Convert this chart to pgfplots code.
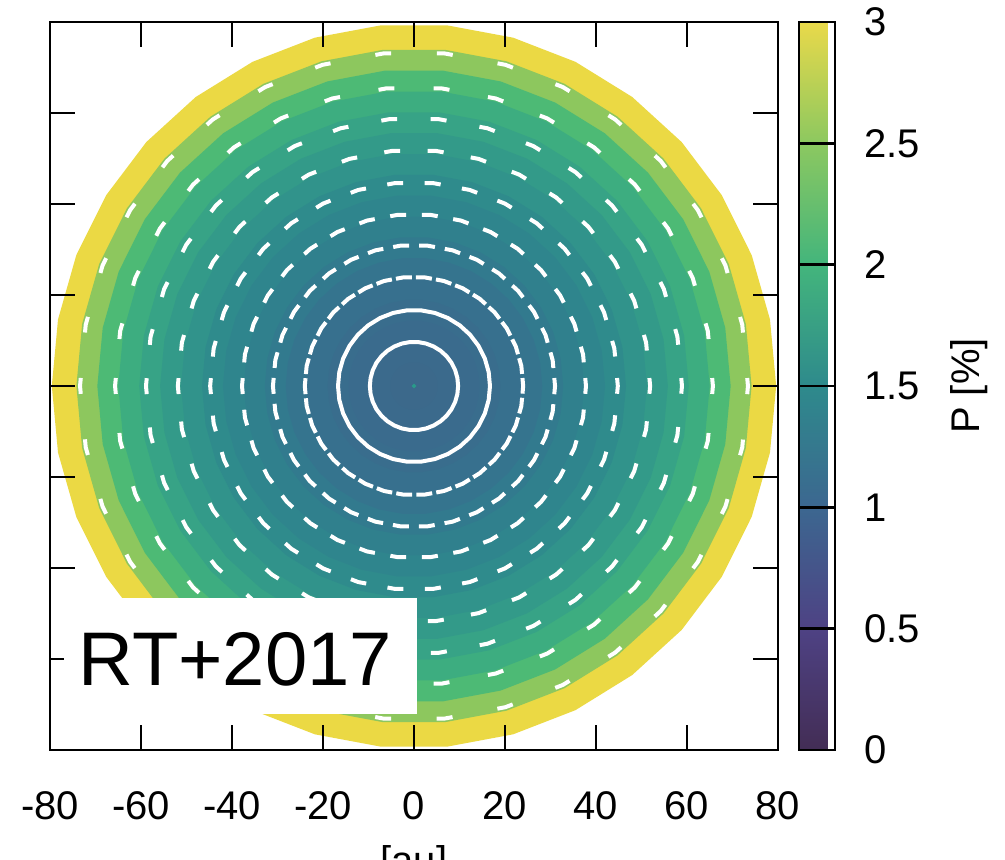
\documentclass[border=0pt]{standalone}
\usepackage{fontspec}
\setmainfont{Liberation Sans}
\usepackage{pgfplots}
\pgfplotsset{compat=1.18}
\usepackage{pgfplotstable}

% polar mesh angles (34 segments), unit radius
\pgfplotstableread{
a u
0 1
10.588 1
21.176 1
31.765 1
42.353 1
52.941 1
63.529 1
74.118 1
84.706 1
95.294 1
105.882 1
116.471 1
127.059 1
137.647 1
148.235 1
158.824 1
169.412 1
180 1
190.588 1
201.176 1
211.765 1
222.353 1
232.941 1
243.529 1
254.118 1
264.706 1
275.294 1
285.882 1
296.471 1
307.059 1
317.647 1
328.235 1
338.824 1
349.412 1
360 1
}\angtab

% ring colours (outer to inner)
\definecolor{r01}{HTML}{EBD944}
\definecolor{r02}{HTML}{8DC75E}
\definecolor{r03}{HTML}{4DBA75}
\definecolor{r04}{HTML}{3DAD80}
\definecolor{r05}{HTML}{37A386}
\definecolor{r06}{HTML}{339A89}
\definecolor{r07}{HTML}{31938B}
\definecolor{r08}{HTML}{2F8B8C}
\definecolor{r09}{HTML}{2F858D}
\definecolor{r10}{HTML}{30808D}
\definecolor{r11}{HTML}{327A8E}
\definecolor{r12}{HTML}{35748E}
\definecolor{r13}{HTML}{37708E}
\definecolor{r14}{HTML}{396D8D}
\definecolor{r15}{HTML}{3A6B8D}
\definecolor{r16}{HTML}{3B6A8C}
\definecolor{r17}{HTML}{3C698B}
\definecolor{cdot}{HTML}{2A9A8A}

\begin{document}
\begin{tikzpicture}
\useasboundingbox (-25pt,-55pt) rectangle (477.5pt,375pt);
\begin{axis}[
  scale only axis, width=364pt, height=364pt,
  xmin=-80, xmax=80, ymin=-80, ymax=80,
  xtick={-80,-60,-40,-20,0,20,40,60,80},
  xticklabels={-80,-60,-40,-20,0,20,40,60,80},
  ytick={-60,-40,-20,0,20,40,60}, yticklabels={},
  tick align=inside, major tick length=12.5pt,
  every tick/.style={black, line width=1.3pt},
  axis line style={line width=1.3pt},
  axis on top,
  xticklabel style={font=\fontsize{20}{24}\selectfont, yshift=-17.3pt},
  xlabel={[au]},
  every axis x label/.style={at={(axis description cs:0.5,0)}, anchor=north, yshift=-44pt, font=\fontsize{20}{24}\selectfont},
  colormap={refvir}{rgb255=(67,45,85) rgb255=(78,66,132) rgb255=(60,103,144) rgb255=(46,138,140) rgb255=(67,181,124) rgb255=(140,200,96) rgb255=(233,217,74)},
  point meta min=0, point meta max=3,
  colorbar,
  colorbar style={
    at={(parent axis.north east)}, anchor=north west, xshift=2pt,
    scale only axis, width=18pt, height=364pt,
    ytick={0,0.5,1,1.5,2,2.5,3}, yticklabels={0,0.5,1,1.5,2,2.5,3},
    major tick length=18pt, tick align=inside,
    every tick/.style={black, line width=1.2pt},
    axis line style={line width=1.3pt},
    yticklabel style={font=\fontsize{20}{24}\selectfont, xshift=11pt},
    ylabel={P [\%]},
    every axis y label/.style={at={(axis description cs:1,0.5)}, xshift=67pt, rotate=90, anchor=center, font=\fontsize{20}{24}\selectfont},
  },
]
% filled rings (outer radius, drawn outside-in)
\addplot[draw=none, fill=r01, data cs=polar] table[x=a, y expr=79.6*\thisrow{u}]{\angtab};
\addplot[draw=none, fill=r02, data cs=polar] table[x=a, y expr=74.2*\thisrow{u}]{\angtab};
\addplot[draw=none, fill=r03, data cs=polar] table[x=a, y expr=69.6*\thisrow{u}]{\angtab};
\addplot[draw=none, fill=r04, data cs=polar] table[x=a, y expr=65.0*\thisrow{u}]{\angtab};
\addplot[draw=none, fill=r05, data cs=polar] table[x=a, y expr=60.4*\thisrow{u}]{\angtab};
\addplot[draw=none, fill=r06, data cs=polar] table[x=a, y expr=55.8*\thisrow{u}]{\angtab};
\addplot[draw=none, fill=r07, data cs=polar] table[x=a, y expr=51.2*\thisrow{u}]{\angtab};
\addplot[draw=none, fill=r08, data cs=polar] table[x=a, y expr=46.6*\thisrow{u}]{\angtab};
\addplot[draw=none, fill=r09, data cs=polar] table[x=a, y expr=42.0*\thisrow{u}]{\angtab};
\addplot[draw=none, fill=r10, data cs=polar] table[x=a, y expr=37.4*\thisrow{u}]{\angtab};
\addplot[draw=none, fill=r11, data cs=polar] table[x=a, y expr=32.8*\thisrow{u}]{\angtab};
\addplot[draw=none, fill=r12, data cs=polar] table[x=a, y expr=28.2*\thisrow{u}]{\angtab};
\addplot[draw=none, fill=r13, data cs=polar] table[x=a, y expr=23.6*\thisrow{u}]{\angtab};
\addplot[draw=none, fill=r14, data cs=polar] table[x=a, y expr=19.0*\thisrow{u}]{\angtab};
\addplot[draw=none, fill=r15, data cs=polar] table[x=a, y expr=14.4*\thisrow{u}]{\angtab};
\addplot[draw=none, fill=r16, data cs=polar] table[x=a, y expr=9.8*\thisrow{u}]{\angtab};
\addplot[draw=none, fill=r17, data cs=polar] table[x=a, y expr=5.2*\thisrow{u}]{\angtab};
% white contours
\addplot[white, line width=2pt, data cs=polar, dash pattern=on 8pt off 22.81pt, dash phase=4pt] table[x=a, y expr=73.4*\thisrow{u}]{\angtab};
\addplot[white, line width=2pt, data cs=polar, dash pattern=on 8pt off 19.58pt, dash phase=4pt] table[x=a, y expr=65.7*\thisrow{u}]{\angtab};
\addplot[white, line width=2pt, data cs=polar, dash pattern=on 8pt off 16.73pt, dash phase=4pt] table[x=a, y expr=58.9*\thisrow{u}]{\angtab};
\addplot[white, line width=2pt, data cs=polar, dash pattern=on 8pt off 13.79pt, dash phase=4pt] table[x=a, y expr=51.9*\thisrow{u}]{\angtab};
\addplot[white, line width=2pt, data cs=polar, dash pattern=on 8pt off 10.81pt, dash phase=4pt] table[x=a, y expr=44.8*\thisrow{u}]{\angtab};
\addplot[white, line width=2pt, data cs=polar, dash pattern=on 8pt off 7.87pt, dash phase=4pt] table[x=a, y expr=37.8*\thisrow{u}]{\angtab};
\addplot[white, line width=2pt, data cs=polar, dash pattern=on 8pt off 5.01pt, dash phase=4pt] table[x=a, y expr=31.0*\thisrow{u}]{\angtab};
\addplot[white, line width=2pt, data cs=polar, dash pattern=on 8pt off 2.08pt, dash phase=4pt] table[x=a, y expr=24.0*\thisrow{u}]{\angtab};
\addplot[white, line width=2pt, data cs=polar] table[x=a, y expr=16.7*\thisrow{u}]{\angtab};
\addplot[white, line width=2pt, data cs=polar] table[x=a, y expr=9.7*\thisrow{u}]{\angtab};
\addplot[only marks, mark=*, mark size=0.9pt, color=cdot] coordinates {(0,0)};
\coordinate (boxbl) at (axis cs:-76.9,-72.1);
\coordinate (boxtr) at (axis cs:0.66,-46.6);
\coordinate (txt) at (axis cs:-73.8,-65.9);
\end{axis}
\fill[white] (boxbl) rectangle (boxtr);
\node[anchor=base west, inner sep=0pt, font=\fontsize{38}{44}\selectfont] at (txt) {RT+2017};
\end{tikzpicture}
\end{document}
